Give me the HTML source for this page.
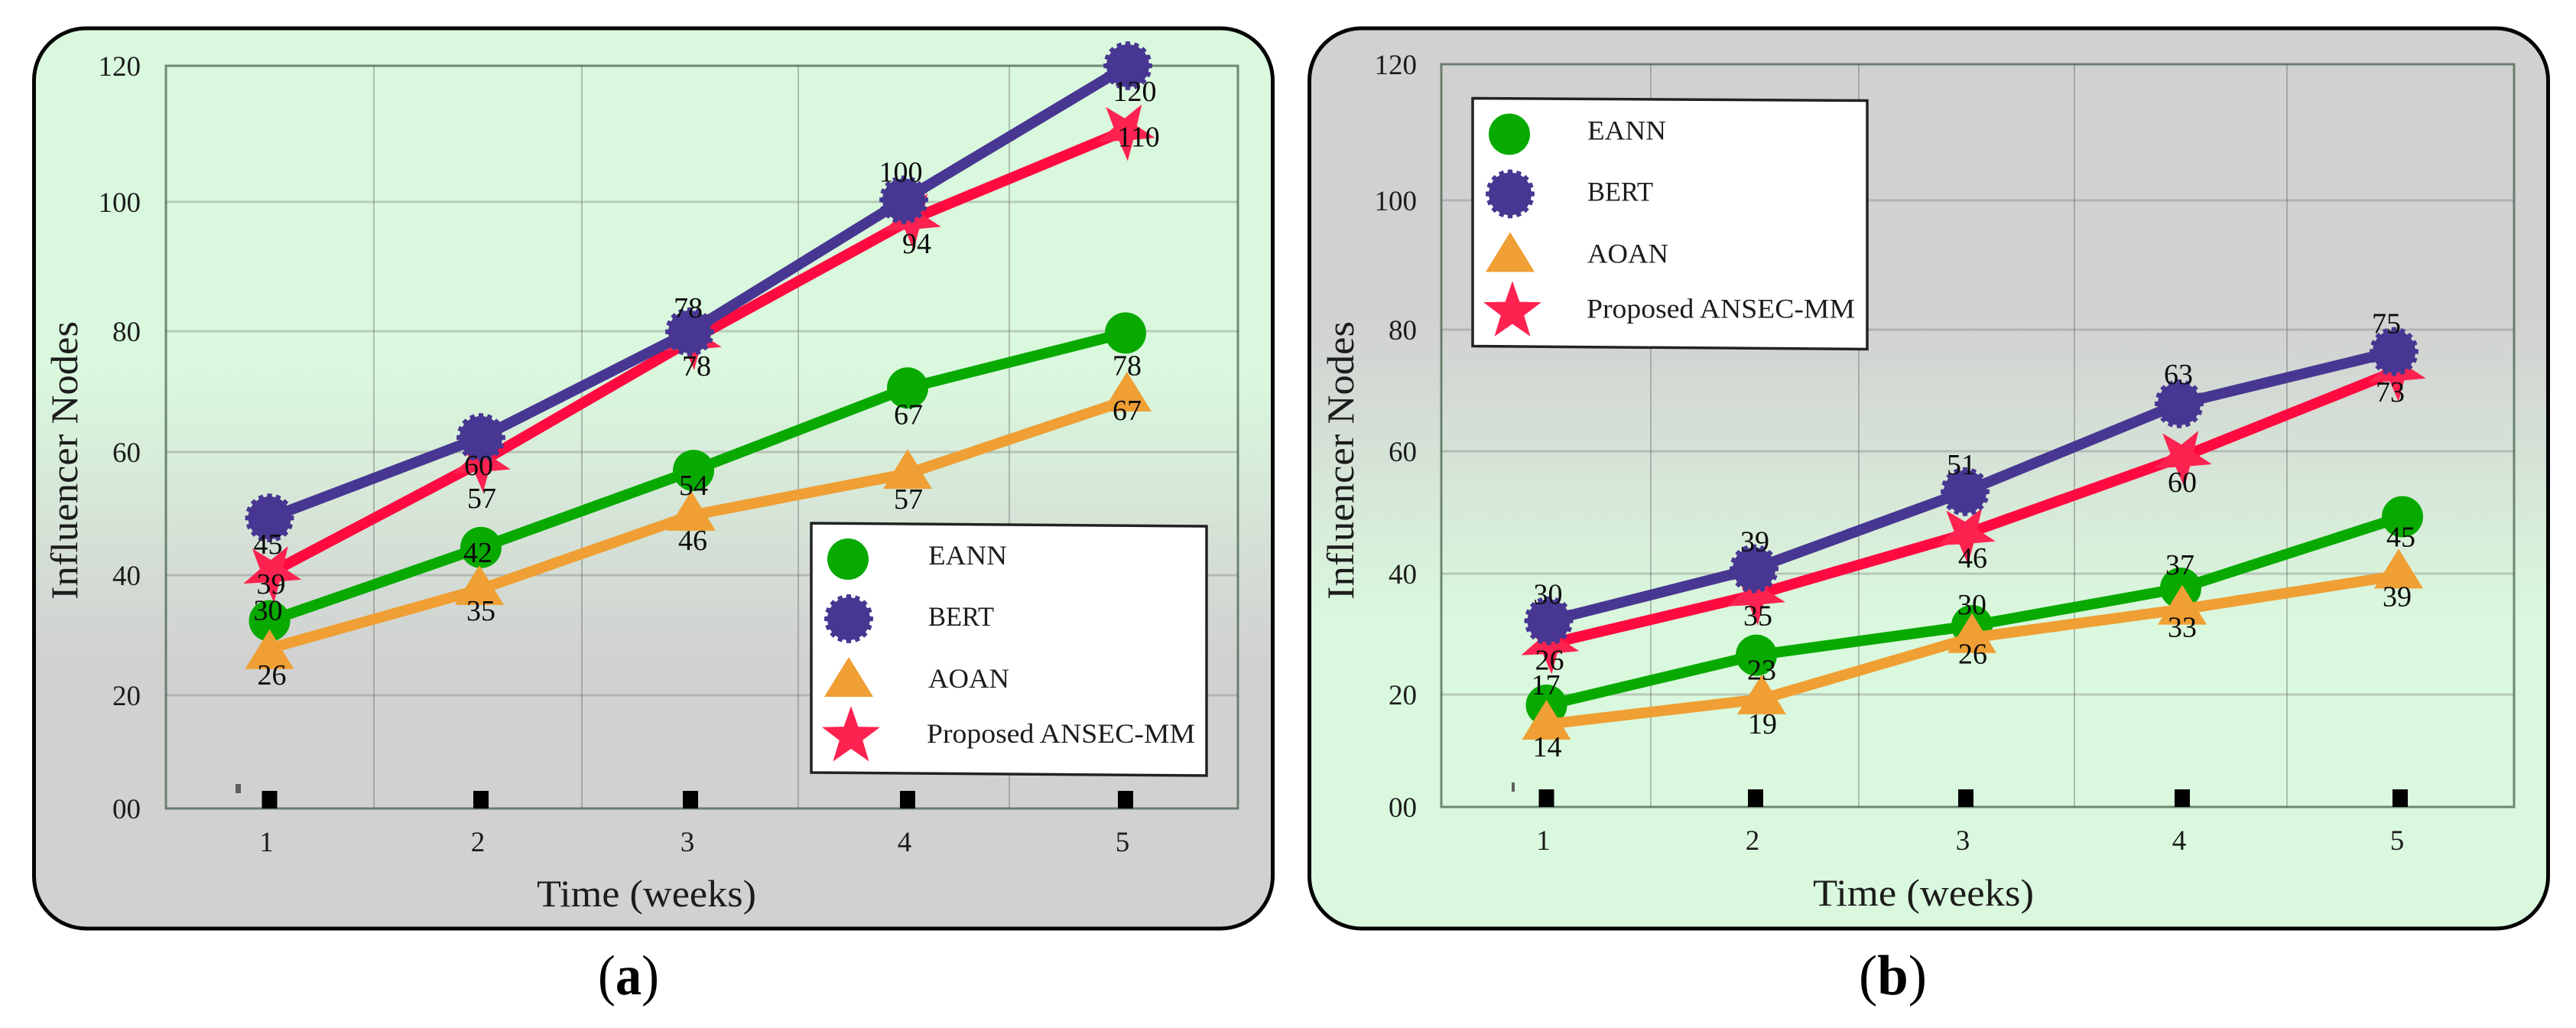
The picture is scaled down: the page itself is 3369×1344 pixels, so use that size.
<!DOCTYPE html>
<html lang="en">
<head>
<meta charset="utf-8">
<title>Influencer Nodes over Time</title>
<style>
  html, body { margin: 0; padding: 0; background: #ffffff; }
  body { width: 3369px; height: 1344px; overflow: hidden; }
  svg { display: block; }
  text { font-family: "Liberation Serif", serif; fill: #1c1c1c; }
</style>
</head>
<body>
<svg id="figure" xmlns="http://www.w3.org/2000/svg" width="3369" height="1344" viewBox="0 0 3369 1344">
  <defs>
    <linearGradient id="panel-fill-a" x1="0" y1="0" x2="0" y2="1">
      <stop offset="0.38" stop-color="#daf8dd"/>
      <stop offset="0.70" stop-color="#d1d1d1"/>
    </linearGradient>
    <linearGradient id="panel-fill-b" x1="0" y1="0" x2="0" y2="1">
      <stop offset="0.32" stop-color="#d1d1d1"/>
      <stop offset="0.66" stop-color="#daf8dd"/>
    </linearGradient>
  </defs>

  <g id="chart-a">
    <rect x="44.5" y="37" width="1620" height="1177" rx="68" ry="68" fill="url(#panel-fill-a)" stroke="#050505" stroke-width="5"/>
    <g id="plot-a"></g>
    <text x="845.5" y="1185" font-size="50" text-anchor="middle" textLength="287" lengthAdjust="spacingAndGlyphs">Time (weeks)</text>
    <text transform="translate(101 602) rotate(-90)" font-size="50" text-anchor="middle" textLength="364" lengthAdjust="spacingAndGlyphs">Influencer Nodes</text>
    <g id="legend-a" transform="translate(1061 684)">
      <polygon points="0,0 517,4 517,330 0,326" fill="#ffffff" stroke="#222222" stroke-width="3.5"/>
      <text x="153" y="54" font-size="36" textLength="103" lengthAdjust="spacingAndGlyphs">EANN</text>
      <text x="153" y="134" font-size="36" textLength="86" lengthAdjust="spacingAndGlyphs">BERT</text>
      <text x="153" y="215" font-size="36" textLength="106" lengthAdjust="spacingAndGlyphs">AOAN</text>
      <text x="151" y="287" font-size="36" textLength="351" lengthAdjust="spacingAndGlyphs">Proposed ANSEC-MM</text>
    </g>
  </g>
  <text x="822" y="1300" font-size="74" text-anchor="middle" textLength="80" lengthAdjust="spacingAndGlyphs" style="fill:#000">(<tspan font-weight="bold">a</tspan>)</text>

  <g id="chart-b">
    <rect x="1712.5" y="37" width="1620" height="1177" rx="68" ry="68" fill="url(#panel-fill-b)" stroke="#050505" stroke-width="5"/>
    <g id="plot-b"></g>
    <text x="2515.5" y="1184" font-size="50" text-anchor="middle" textLength="289" lengthAdjust="spacingAndGlyphs">Time (weeks)</text>
    <text transform="translate(1770 602) rotate(-90)" font-size="50" text-anchor="middle" textLength="364" lengthAdjust="spacingAndGlyphs">Influencer Nodes</text>
    <g id="legend-b" transform="translate(1926 128.5)">
      <polygon points="0,0 516,3 516,328 0,324" fill="#ffffff" stroke="#222222" stroke-width="3.5"/>
      <text x="150" y="54" font-size="36" textLength="103" lengthAdjust="spacingAndGlyphs">EANN</text>
      <text x="150" y="134" font-size="36" textLength="86" lengthAdjust="spacingAndGlyphs">BERT</text>
      <text x="150" y="215" font-size="36" textLength="106" lengthAdjust="spacingAndGlyphs">AOAN</text>
      <text x="149" y="287" font-size="36" textLength="351" lengthAdjust="spacingAndGlyphs">Proposed ANSEC-MM</text>
    </g>
  </g>
  <text x="2475.5" y="1300" font-size="74" text-anchor="middle" textLength="89" lengthAdjust="spacingAndGlyphs" style="fill:#000">(<tspan font-weight="bold">b</tspan>)</text>
</svg>

<script>
// ---------- chart data ----------
const weeks = [1, 2, 3, 4, 5];
const yTickValues = [0, 20, 40, 60, 80, 100, 120];
const yTickLabels = ['00', '20', '40', '60', '80', '100', '120'];

const aEann = [32.4, 44.5, 57, 70.6, 79.7];
const aBert = [49.3, 62.4, 79.9, 100.3, 120];
const aAoan = [27.8, 37.6, 49.7, 56.5, 68.6];
const aProposed = [40.5, 58.4, 78.6, 97.3, 110.5];
const aEannPrinted = [30, 42, 54, 67, 78];
const aBertPrinted = [45, 60, 78, 100, 120];
const aAoanPrinted = [26, 35, 46, 57, 67];
const aProposedPrinted = [39, 57, 78, 94, 110];

const bEann = [18.1, 26.5, 31.4, 37.6, 49.3];
const bBert = [32.2, 40.8, 53.4, 67.8, 76.4];
const bAoan = [14.7, 19.2, 29.4, 34.1, 39.7];
const bProposed = [28.4, 36.5, 46.5, 59.1, 73.2];
const bEannPrinted = [17, 23, 30, 37, 45];
const bBertPrinted = [30, 39, 51, 63, 75];
const bAoanPrinted = [14, 19, 26, 33, 39];
const bProposedPrinted = [26, 35, 46, 60, 73];

// ---------- drawing ----------
const NS = 'http://www.w3.org/2000/svg';
const GREEN = '#08aa00', PURPLE = '#473792', ORANGE = '#ef9f33', STAR = '#fd2250', RED = '#ff0a40';

function make(parent, tag, attrs, text) {
  const node = document.createElementNS(NS, tag);
  Object.keys(attrs).forEach(function (k) { node.setAttribute(k, attrs[k]); });
  if (text !== undefined) node.textContent = text;
  parent.appendChild(node);
  return node;
}

// Axis function: the source chart's axes are hand-spaced, so map through anchors.
function piecewise(v, domain, range) {
  let i = 0;
  while (i < domain.length - 2 && v > domain[i + 1]) i++;
  const t = (v - domain[i]) / (domain[i + 1] - domain[i]);
  return range[i] + t * (range[i + 1] - range[i]);
}

function gearPoints(cx, cy, R, r) {
  const n = 16, p = 2 * Math.PI / n, pts = [];
  for (let i = 0; i < n; i++) {
    const a = -Math.PI / 2 + i * p;
    [[r, -0.30], [R, -0.24], [R, 0.24], [r, 0.30]].forEach(function (q) {
      pts.push((cx + q[0] * Math.cos(a + q[1] * p)).toFixed(1) + ',' + (cy + q[0] * Math.sin(a + q[1] * p)).toFixed(1));
    });
  }
  return pts.join(' ');
}

function starPoints(cx, cy, R, startDeg) {
  const pts = [], r = R * 0.4;
  for (let i = 0; i < 10; i++) {
    const a = (startDeg + i * 36) * Math.PI / 180, d = i % 2 ? r : R;
    pts.push((cx + d * Math.cos(a)).toFixed(1) + ',' + (cy + d * Math.sin(a)).toFixed(1));
  }
  return pts.join(' ');
}

function drawMarker(parent, kind, x, y, starStart) {
  if (kind === 'eann') return make(parent, 'circle', { cx: x, cy: y, r: 27, fill: GREEN });
  if (kind === 'bert') return make(parent, 'polygon', { points: gearPoints(x, y, 32, 28), fill: PURPLE });
  if (kind === 'aoan') return make(parent, 'polygon', { points: x + ',' + (y - 32) + ' ' + (x + 32) + ',' + (y + 20) + ' ' + (x - 32) + ',' + (y + 20), fill: ORANGE });
  return make(parent, 'polygon', { points: starPoints(x, y, 40, starStart), fill: STAR });
}

function drawLegend(suffix) {
  const g = document.getElementById('legend-' + suffix);
  const circle = drawMarker(g, 'eann', 48, 47);
  
  
  const gear = drawMarker(g, 'bert', 49, 125);
  
  
  const tri = drawMarker(g, 'aoan', 49, 207);
  
  
  const star = drawMarker(g, 'proposed', 52, 279, -90);
  
  
}

function drawChart(suffix, layout, series) {
  const g = document.getElementById('plot-' + suffix);
  const xOf = function (v) { return piecewise(v, weeks, layout.catPx); };
  const yOf = function (v) { return piecewise(v, yTickValues, layout.tickPx); };

  // horizontal gridlines + y tick labels
  yTickValues.forEach(function (v, i) {
    const py = yOf(v);
    if (v > 0 && v < 120) {
      const grid = make(g, 'line', { x1: layout.left, x2: layout.right, y1: py, y2: py, stroke: '#777777', 'stroke-opacity': 0.35, 'stroke-width': 3 });
      
      
    }
    const t = make(g, 'text', { x: layout.yLabelRight, y: py + 13, 'font-size': 37, 'text-anchor': 'end' }, yTickLabels[i]);
    
    
  });

  // vertical gridlines
  layout.gridPx.forEach(function (px, i) {
    const grid = make(g, 'line', { x1: px, x2: px, y1: layout.top, y2: layout.bottom, stroke: '#666666', 'stroke-opacity': 0.4, 'stroke-width': 2 });
    
    
  });

  // plot frame
  const frame = make(g, 'rect', { x: layout.left, y: layout.top, width: layout.right - layout.left, height: layout.bottom - layout.top, fill: 'none', stroke: '#3f5a45', 'stroke-opacity': 0.7, 'stroke-width': 3 });
  
  

  // x ticks: black squares + labels
  weeks.forEach(function (w, i) {
    const sq = make(g, 'rect', { x: xOf(w) - 10, y: layout.bottom - 23, width: 20, height: 23, fill: '#000000' });
    
    
    const t = make(g, 'text', { x: xOf(w) - 4, y: layout.bottom + 56, 'font-size': 37, 'text-anchor': 'middle' }, String(w));
    
    
  });
  const stray = make(g, 'rect', { x: layout.strayX, y: layout.bottom - 32, width: layout.strayW, height: 12, fill: '#5f5f5f' });
  
  

  // series lines + markers
  series.forEach(function (s) {
    const pts = weeks.map(function (w, i) { return [xOf(w) + layout.nudge[s.kind][i], yOf(s.values[i])]; });
    const line = make(g, 'polyline', { points: pts.map(function (p) { return p[0].toFixed(1) + ',' + p[1].toFixed(1); }).join(' '), fill: 'none', stroke: s.lineColor, 'stroke-width': 14, 'stroke-linejoin': 'round' });
    
    
    pts.forEach(function (p, i) {
      const lift = s.kind === 'aoan' ? layout.triangleLift[i] : 0;
      const m = drawMarker(g, s.kind, p[0], p[1] + lift, 86);
      
      
    });
  });

  // printed value labels sit on top of everything
  series.forEach(function (s) {
    weeks.forEach(function (w, i) {
      const off = layout.labelOffset[s.kind][i];
      const t = make(g, 'text', { x: xOf(w) + off[0], y: yOf(s.values[i]) + off[1] + 13, 'font-size': 38, 'text-anchor': 'middle', style: 'fill:#0c0c0c' }, String(s.printed[i]));
      
      
    });
  });
}

drawChart('a', {
  left: 217, right: 1619, top: 86, bottom: 1057, yLabelRight: 184,
  catPx: [352.5, 629, 903, 1187, 1472],
  tickPx: [1057, 909, 752, 591, 433, 264, 86],
  gridPx: [489, 761, 1044, 1320],
  strayX: 308, strayW: 7,
  triangleLift: [7, 0, 0, 0, -5],
  nudge: {
    eann: [0, 0, 4, 0, 0], aoan: [0, -2, 1, 0, 2],
    proposed: [3, 0, 2, 5, 0], bert: [0, 0, -1, -5, 3]
  },
  labelOffset: {
    eann: [[-2, -14], [-4, 6], [4, 19], [1, 34], [2, 42]],
    bert: [[-2, 34], [-3, 36], [-3, -32], [-9, -37], [12, 33]],
    aoan: [[3, 34], [0, 27], [3, 32], [1, 33], [2, 13]],
    proposed: [[2, 15], [1, 47], [8, 34], [12, 31], [17, 8]]
  }
}, [
  { kind: 'eann', values: aEann, printed: aEannPrinted, lineColor: GREEN },
  { kind: 'aoan', values: aAoan, printed: aAoanPrinted, lineColor: ORANGE },
  { kind: 'proposed', values: aProposed, printed: aProposedPrinted, lineColor: RED },
  { kind: 'bert', values: aBert, printed: aBertPrinted, lineColor: PURPLE }
]);

drawChart('b', {
  left: 1885, right: 3288, top: 84, bottom: 1055, yLabelRight: 1853,
  catPx: [2022.5, 2296, 2571, 2854, 3139],
  tickPx: [1055, 908, 750, 590, 431, 262, 84],
  gridPx: [2159, 2431, 2713, 2991],
  strayX: 1977, strayW: 4,
  triangleLift: [0, 0, 0, 0, -3],
  nudge: {
    eann: [0, 1, 8, -2, 3], aoan: [0, 8, 8, 0, -2],
    proposed: [4, 0, 0, 0, -5], bert: [3, -2, -1, -4, -8]
  },
  labelOffset: {
    eann: [[-1, -27], [8, 19], [8, -28], [-3, -31], [1, 26]],
    bert: [[2, -35], [-1, -36], [-6, -36], [-5, -39], [-18, -37]],
    aoan: [[1, 29], [9, 32], [9, 21], [0, 23], [-4, 27]],
    proposed: [[4, 21], [3, 27], [9, 31], [0, 33], [-13, 27]]
  }
}, [
  { kind: 'eann', values: bEann, printed: bEannPrinted, lineColor: GREEN },
  { kind: 'aoan', values: bAoan, printed: bAoanPrinted, lineColor: ORANGE },
  { kind: 'proposed', values: bProposed, printed: bProposedPrinted, lineColor: RED },
  { kind: 'bert', values: bBert, printed: bBertPrinted, lineColor: PURPLE }
]);

drawLegend('a');
drawLegend('b');
</script>
</body>
</html>
